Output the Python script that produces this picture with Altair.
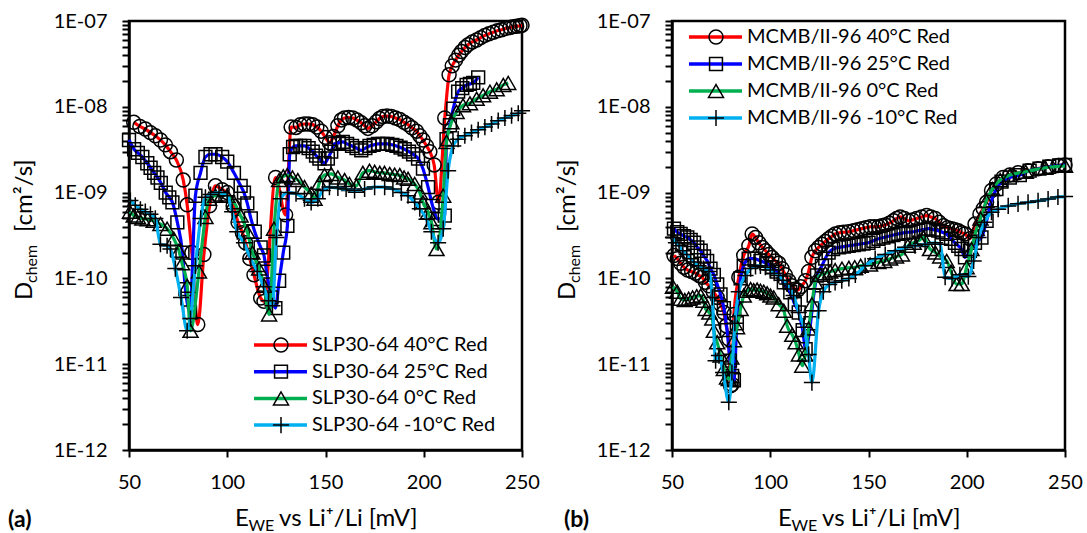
import altair as alt
import pandas as pd

FONT = "Lato"
X_TICKS = [50, 100, 150, 200, 250]
Y_TICKS = [m * 10.0 ** e for e in range(-12, -7) for m in range(1, 10)] + [1e-7]

SERIES_A = ["SLP30-64 40°C Red", "SLP30-64 25°C Red", "SLP30-64 0°C Red", "SLP30-64 -10°C Red"]
SERIES_B = ["MCMB/II-96 40°C Red", "MCMB/II-96 25°C Red", "MCMB/II-96 0°C Red", "MCMB/II-96 -10°C Red"]
COLORS = ["#FF0000", "#0000FF", "#00B050", "#00B0F0"]
SHAPES = ["circle", "square", "triangle-up", "M-1,0H1M0,-1V1"]
SIZES = [195, 165, 225, 260]

# ---- panel (a): SLP30-64 ----
A_40 = [(52.4, 6.6e-9), (55.5, 5.9e-9), (58.3, 5.5e-9), (60.9, 5.0e-9), (63.4, 4.6e-9), (66.0, 4.1e-9),
        (68.5, 3.6e-9), (71.1, 3.0e-9), (74.1, 2.4e-9), (77.6, 1.4e-9), (79.6, 7.2e-10), (82.0, 2.0e-10),
        (85.0, 2.9e-11), (88.1, 1.9e-10), (91.0, 7.0e-10), (94.0, 1.2e-9), (97.4, 1.08e-9), (100.0, 1.0e-9),
        (103.0, 7.0e-10), (105.5, 4.5e-10), (107.7, 3.4e-10), (109.3, 2.6e-10), (111.5, 1.7e-10),
        (113.6, 1.1e-10), (117.0, 5.9e-11), (118.7, 5.4e-11), (124.6, 1.5e-9), (129.7, 5.5e-10),
        (132.5, 5.8e-9), (135.0, 5.75e-9), (137.2, 6.2e-9), (139.3, 6.3e-9), (141.4, 6.3e-9), (143.5, 6.2e-9),
        (145.6, 5.8e-9), (147.8, 5.2e-9), (150.0, 4.4e-9), (152.0, 3.8e-9), (154.0, 4.5e-9), (156.3, 6.0e-9),
        (158.0, 7.0e-9), (159.7, 7.4e-9), (161.8, 7.5e-9), (163.9, 7.4e-9), (166.0, 7.0e-9), (168.2, 6.5e-9),
        (170.0, 6.0e-9), (171.6, 5.6e-9), (173.7, 6.0e-9), (175.9, 6.7e-9), (177.5, 7.3e-9), (179.2, 7.7e-9),
        (181.3, 7.8e-9), (183.5, 7.7e-9), (185.6, 7.4e-9), (187.8, 7.1e-9), (190.0, 6.6e-9), (192.0, 6.2e-9),
        (194.0, 5.7e-9), (196.3, 5.2e-9), (198.0, 4.6e-9), (199.6, 4.1e-9), (201.4, 3.5e-9), (203.1, 3.0e-9),
        (205.3, 2.1e-9), (207.5, 7.7e-10), (210.7, 7.4e-9), (212.9, 2.36e-8), (214.5, 3.0e-8), (216.2, 3.5e-8),
        (217.8, 4.0e-8), (219.2, 4.4e-8), (221.0, 4.9e-8), (222.6, 5.3e-8), (224.7, 5.7e-8), (226.9, 6.0e-8),
        (229.0, 6.4e-8), (231.1, 6.8e-8), (233.2, 7.1e-8), (235.4, 7.4e-8), (237.5, 7.7e-8), (239.6, 7.9e-8),
        (241.7, 8.2e-8), (243.9, 8.4e-8), (245.6, 8.6e-8), (247.3, 8.7e-8), (249.0, 8.8e-8), (250.0, 8.9e-8)]

A_25 = [(50.0, 4.1e-9), (52.6, 3.2e-9), (54.5, 2.9e-9), (56.8, 2.6e-9), (59.3, 2.2e-9), (61.0, 1.95e-9),
        (62.8, 1.7e-9), (64.5, 1.5e-9), (66.2, 1.3e-9), (68.7, 1.0e-9), (70.5, 8.8e-10), (72.1, 7.7e-10),
        (74.6, 4.5e-10), (77.2, 2.0e-10), (78.7, 7.5e-11), (81.0, 4.0e-11), (83.8, 9.2e-10), (86.4, 1.7e-9),
        (88.9, 2.6e-9), (91.5, 2.8e-9), (94.0, 2.8e-9), (97.4, 2.6e-9), (100.0, 2.3e-9), (103.4, 1.7e-9),
        (106.8, 1.2e-9), (108.5, 1.0e-9), (110.2, 7.5e-10), (112.0, 5.0e-10), (114.0, 3.5e-10),
        (117.0, 2.3e-10), (118.7, 1.85e-10), (120.0, 1.2e-10), (122.5, 6.0e-11), (124.5, 4.5e-11),
        (126.4, 9.4e-11), (128.5, 2.0e-10), (130.6, 4.1e-10), (131.8, 2.8e-9), (133.5, 3.4e-9), (135.0, 3.5e-9),
        (137.2, 3.5e-9), (139.3, 3.5e-9), (141.4, 3.3e-9), (143.5, 3.0e-9), (145.2, 2.7e-9), (146.9, 2.5e-9),
        (149.5, 2.2e-9), (151.2, 2.5e-9), (152.9, 3.0e-9), (154.6, 3.7e-9), (156.7, 3.8e-9), (158.8, 3.9e-9),
        (161.0, 3.7e-9), (163.5, 3.5e-9), (165.8, 3.3e-9), (168.2, 3.1e-9), (170.3, 3.3e-9), (172.4, 3.5e-9),
        (174.5, 3.6e-9), (176.7, 3.7e-9), (179.0, 3.7e-9), (181.5, 3.7e-9), (184.0, 3.6e-9), (186.1, 3.5e-9),
        (188.2, 3.35e-9), (190.3, 3.2e-9), (192.5, 3.0e-9), (194.6, 2.8e-9), (197.1, 2.5e-9), (199.6, 1.9e-9),
        (202.2, 1.16e-9), (204.5, 7.0e-10), (207.3, 4.9e-10), (210.7, 5.4e-10), (211.6, 4.2e-9),
        (213.3, 6.1e-9), (215.0, 9.5e-9), (217.5, 1.5e-8), (219.6, 1.65e-8), (221.8, 1.8e-8),
        (223.5, 1.85e-8), (225.2, 1.9e-8), (227.7, 2.2e-8)]

A_0 = [(50.5, 6.0e-10), (52.4, 5.4e-10), (54.5, 5.2e-10), (56.8, 5.0e-10), (59.5, 4.9e-10), (62.6, 4.7e-10),
       (66.0, 4.3e-10), (69.4, 3.8e-10), (72.8, 2.9e-10), (75.4, 2.1e-10), (77.0, 1.5e-10), (79.6, 8.2e-11),
       (81.3, 2.45e-11), (85.6, 1.2e-10), (88.9, 5.2e-10), (90.7, 8.5e-10), (94.0, 9.2e-10), (97.4, 9.5e-10),
       (100.0, 9.2e-10), (103.4, 7.7e-10), (106.8, 5.4e-10), (110.2, 3.5e-10), (112.8, 2.0e-10),
       (116.2, 1.3e-10), (118.7, 8.2e-11), (121.3, 3.8e-11), (123.8, 3.8e-10), (126.4, 1.4e-9),
       (128.5, 1.55e-9), (130.5, 1.6e-9), (133.2, 1.5e-9), (135.9, 1.4e-9), (139.3, 1.16e-9), (142.7, 9.7e-10),
       (144.4, 8.5e-10), (146.9, 1.3e-9), (149.5, 1.6e-9), (152.9, 1.65e-9), (156.3, 1.5e-9), (159.7, 1.4e-9),
       (162.2, 1.26e-9), (165.7, 1.2e-9), (169.0, 1.7e-9), (172.4, 1.8e-9), (175.0, 1.75e-9), (177.6, 1.7e-9),
       (180.0, 1.7e-9), (182.7, 1.65e-9), (185.2, 1.62e-9), (187.8, 1.6e-9), (190.0, 1.5e-9), (192.0, 1.45e-9),
       (195.4, 1.26e-9), (198.0, 1.0e-9), (199.6, 7.7e-10), (202.2, 5.9e-10), (203.9, 4.5e-10),
       (206.5, 2.2e-10), (209.9, 9.2e-10), (211.6, 3.9e-9), (214.1, 6.6e-9), (216.7, 8.7e-9), (220.0, 1.04e-8),
       (223.5, 1.1e-8), (226.9, 1.24e-8), (230.2, 1.36e-8), (233.7, 1.5e-8), (237.1, 1.6e-8), (240.5, 1.8e-8),
       (243.0, 1.9e-8)]

A_M10 = [(50.7, 8.1e-10), (53.2, 7.1e-10), (55.8, 6.4e-10), (58.3, 6.0e-10), (60.9, 5.6e-10), (63.4, 5.0e-10),
         (66.0, 2.5e-10), (69.4, 2.4e-10), (71.1, 2.2e-10), (73.6, 1.3e-10), (76.5, 6.0e-11), (79.6, 2.45e-11),
         (81.3, 3.4e-11), (83.8, 1.4e-10), (86.5, 5.0e-10), (88.9, 8.8e-10), (91.5, 9.5e-10), (95.8, 1.0e-9),
         (100.0, 9.2e-10), (102.5, 6.0e-10), (105.1, 3.5e-10), (108.5, 2.6e-10), (111.9, 1.7e-10),
         (115.3, 1.2e-10), (118.5, 8.0e-11), (121.0, 5.5e-11), (123.0, 4.8e-11), (125.0, 3.0e-10),
         (127.2, 8.5e-10), (130.8, 1.0e-9), (135.0, 9.7e-10), (139.3, 8.5e-10), (142.7, 7.7e-10),
         (146.1, 8.5e-10), (148.6, 1.06e-9), (152.0, 1.16e-9), (156.3, 1.13e-9), (160.5, 1.1e-9),
         (164.8, 1.06e-9), (169.9, 1.1e-9), (175.0, 1.16e-9), (180.1, 1.16e-9), (184.3, 1.1e-9), (188.6, 1.0e-9),
         (192.0, 9.2e-10), (195.4, 7.7e-10), (198.0, 6.5e-10), (201.4, 4.9e-10), (203.9, 3.5e-10),
         (207.3, 2.6e-10), (209.9, 3.8e-10), (212.4, 1.8e-9), (215.0, 3.5e-9), (217.5, 4.2e-9), (220.9, 4.6e-9),
         (224.3, 5.0e-9), (227.7, 5.4e-9), (231.1, 5.8e-9), (234.5, 6.3e-9), (237.9, 6.9e-9), (241.3, 7.4e-9),
         (244.7, 7.9e-9), (248.1, 8.4e-9), (250.0, 9.0e-9)]

# ---- panel (b): MCMB/II-96 ----
B_40 = [(51.0, 1.85e-10), (52.7, 1.7e-10), (54.4, 1.5e-10), (56.1, 1.35e-10), (58.0, 1.25e-10), (60.0, 1.2e-10),
        (62.0, 1.15e-10), (63.8, 1.08e-10), (65.4, 1.03e-10), (67.0, 9.0e-11), (68.8, 8.2e-11), (71.0, 7.0e-11),
        (73.0, 6.0e-11), (74.7, 5.0e-11), (76.4, 4.0e-11), (77.6, 2.8e-11), (78.9, 1.96e-11), (79.8, 5.6e-12),
        (80.6, 5.8e-12), (81.5, 3.8e-11), (84.0, 1.03e-10), (86.5, 1.85e-10), (89.1, 2.4e-10), (90.8, 3.3e-10),
        (92.5, 3.0e-10), (94.2, 2.6e-10), (96.0, 2.3e-10), (97.6, 2.1e-10), (99.3, 1.9e-10), (100.9, 1.75e-10),
        (102.6, 1.6e-10), (104.3, 1.5e-10), (106.0, 1.3e-10), (107.7, 1.1e-10), (109.4, 9.4e-11),
        (111.0, 8.2e-11), (112.5, 7.5e-11), (114.0, 7.3e-11), (115.5, 8.0e-11), (117.9, 9.4e-11),
        (119.5, 1.2e-10), (121.2, 1.76e-10), (123.0, 2.1e-10), (124.6, 2.3e-10), (126.3, 2.5e-10),
        (128.0, 2.7e-10), (129.7, 2.9e-10), (131.4, 3.1e-10), (133.1, 3.3e-10), (135.2, 3.4e-10),
        (137.3, 3.45e-10), (139.8, 3.5e-10), (142.4, 3.6e-10), (144.5, 3.7e-10), (146.6, 3.8e-10),
        (148.7, 3.9e-10), (150.9, 4.0e-10), (153.0, 4.0e-10), (155.1, 4.0e-10), (156.8, 4.1e-10),
        (158.5, 4.2e-10), (160.6, 4.4e-10), (162.7, 4.7e-10), (164.4, 5.0e-10), (166.1, 5.2e-10),
        (168.2, 5.0e-10), (170.3, 4.7e-10), (172.4, 4.8e-10), (174.5, 5.0e-10), (177.0, 5.2e-10),
        (179.6, 5.4e-10), (181.7, 5.2e-10), (183.9, 5.0e-10), (186.0, 4.5e-10), (188.1, 4.1e-10),
        (190.2, 3.9e-10), (192.3, 3.8e-10), (194.0, 3.7e-10), (195.7, 3.6e-10), (197.4, 3.4e-10),
        (199.1, 3.3e-10), (201.6, 2.9e-10), (204.2, 4.3e-10), (206.7, 5.6e-10), (208.4, 6.5e-10),
        (210.1, 7.7e-10), (212.6, 1.06e-9), (215.1, 1.26e-9), (218.5, 1.5e-9), (221.9, 1.6e-9), (226.1, 1.7e-9),
        (231.2, 1.8e-9), (236.3, 1.9e-9), (241.4, 2.0e-9), (246.4, 2.07e-9), (250.0, 2.1e-9)]

B_25 = [(51.0, 3.8e-10), (52.7, 3.45e-10), (54.4, 3.3e-10), (56.1, 3.1e-10), (57.8, 3.0e-10), (59.5, 2.8e-10),
        (61.2, 2.6e-10), (62.9, 2.3e-10), (64.6, 2.1e-10), (66.3, 1.8e-10), (67.9, 1.6e-10), (69.6, 1.3e-10),
        (71.3, 1.1e-10), (73.0, 8.5e-11), (74.7, 6.5e-11), (76.4, 4.5e-11), (78.0, 2.5e-11), (79.5, 1.1e-11),
        (80.6, 7.3e-12), (81.5, 6.5e-12), (83.0, 3.0e-11), (84.9, 1.0e-10), (86.5, 1.4e-10), (89.0, 1.7e-10),
        (92.0, 1.7e-10), (95.0, 1.6e-10), (98.0, 1.5e-10), (101.0, 1.35e-10), (103.4, 1.2e-10),
        (106.9, 9.0e-11), (110.2, 6.9e-11), (112.5, 5.0e-11), (114.5, 4.0e-11), (116.5, 2.5e-11),
        (118.0, 1.5e-11), (120.5, 3.0e-11), (122.1, 6.3e-11), (123.8, 1.08e-10), (126.3, 1.4e-10),
        (128.0, 1.7e-10), (129.7, 2.0e-10), (132.0, 2.2e-10), (135.0, 2.3e-10), (137.5, 2.35e-10),
        (139.9, 2.4e-10), (142.5, 2.45e-10), (145.0, 2.5e-10), (147.5, 2.55e-10), (150.0, 2.6e-10),
        (152.5, 2.75e-10), (155.1, 2.9e-10), (157.6, 3.0e-10), (160.2, 3.1e-10), (162.7, 3.2e-10),
        (165.2, 3.3e-10), (167.8, 3.4e-10), (170.3, 3.45e-10), (172.8, 3.5e-10), (175.4, 3.6e-10),
        (178.0, 3.7e-10), (180.5, 3.8e-10), (183.0, 3.7e-10), (185.5, 3.6e-10), (187.6, 3.45e-10),
        (189.7, 3.3e-10), (192.0, 2.9e-10), (194.0, 2.6e-10), (195.7, 2.4e-10), (197.3, 2.2e-10),
        (199.1, 1.76e-10), (201.6, 2.1e-10), (204.2, 2.6e-10), (207.5, 3.0e-10), (210.1, 4.7e-10),
        (212.6, 8.1e-10), (215.1, 1.1e-9), (217.7, 1.34e-9), (221.9, 1.5e-9), (227.0, 1.6e-9), (232.0, 1.8e-9),
        (237.0, 1.9e-9), (242.0, 2.0e-9), (247.0, 2.07e-9), (250.0, 2.1e-9)]

B_0 = [(50.5, 8.0e-11), (52.7, 7.0e-11), (54.4, 5.8e-11), (56.5, 5.6e-11), (58.5, 5.8e-11), (60.5, 6.0e-11),
       (62.6, 6.2e-11), (64.6, 6.3e-11), (66.0, 5.5e-11), (67.1, 4.4e-11), (69.0, 4.0e-11), (70.5, 3.4e-11),
       (71.3, 2.45e-11), (73.0, 1.8e-11), (74.7, 1.26e-11), (76.4, 8.8e-12), (78.0, 7.0e-12), (78.9, 6.7e-12),
       (80.2, 1.2e-11), (81.5, 1.9e-11), (83.1, 2.7e-11), (84.9, 4.4e-11), (86.5, 6.3e-11), (88.2, 7.2e-11),
       (90.0, 7.5e-11), (91.6, 7.3e-11), (93.3, 7.4e-11), (95.0, 7.2e-11), (96.7, 7.0e-11), (98.4, 6.7e-11),
       (100.1, 6.3e-11), (101.8, 6.0e-11), (104.3, 5.0e-11), (106.9, 4.2e-11), (108.6, 2.8e-11),
       (111.2, 2.2e-11), (112.9, 1.8e-11), (114.6, 1.3e-11), (116.3, 9.6e-12), (117.8, 1.3e-11),
       (119.5, 2.6e-11), (121.2, 5.0e-11), (122.9, 9.0e-11), (125.5, 1.1e-10), (128.0, 1.15e-10),
       (130.5, 1.2e-10), (133.0, 1.25e-10), (136.5, 1.3e-10), (140.0, 1.33e-10), (143.0, 1.35e-10),
       (146.0, 1.4e-10), (150.8, 1.45e-10), (155.0, 1.55e-10), (158.0, 1.6e-10), (161.0, 1.7e-10),
       (164.0, 1.8e-10), (167.0, 1.9e-10), (170.0, 2.4e-10), (173.0, 2.6e-10), (176.0, 2.8e-10),
       (178.0, 3.0e-10), (181.3, 2.2e-10), (184.0, 2.0e-10), (186.5, 1.8e-10), (189.8, 1.6e-10),
       (192.0, 1.2e-10), (194.8, 8.6e-11), (197.4, 8.6e-11), (199.9, 1.35e-10), (202.4, 2.2e-10),
       (205.0, 3.8e-10), (207.0, 5.0e-10), (210.0, 8.0e-10), (213.0, 1.1e-9), (217.0, 1.4e-9), (222.0, 1.6e-9),
       (230.0, 1.75e-9), (240.0, 1.95e-9), (250.0, 2.05e-9)]

B_M10 = [(50.5, 3.0e-10), (52.0, 2.6e-10), (53.6, 2.4e-10), (55.5, 2.1e-10), (57.5, 1.9e-10), (59.5, 1.7e-10),
         (61.2, 1.55e-10), (63.5, 1.4e-10), (66.0, 1.3e-10), (68.8, 1.2e-10), (70.5, 6.0e-11), (72.2, 1.1e-11),
         (73.9, 1.26e-11), (76.0, 8.0e-12), (78.9, 3.6e-12), (80.5, 8.0e-12), (82.0, 3.0e-11), (84.0, 7.0e-11),
         (87.4, 1.08e-10), (90.0, 1.3e-10), (92.5, 1.38e-10), (95.0, 1.4e-10), (97.5, 1.35e-10), (100.0, 1.25e-10),
         (102.0, 1.15e-10), (104.3, 1.08e-10), (106.5, 9.5e-11), (108.6, 8.6e-11), (110.3, 7.5e-11),
         (111.9, 6.3e-11), (114.5, 4.0e-11), (117.1, 2.7e-11), (119.5, 1.3e-11), (121.2, 6.1e-12),
         (124.6, 4.2e-11), (127.0, 7.0e-11), (130.0, 8.5e-11), (133.0, 9.0e-11), (136.4, 9.4e-11),
         (140.0, 1.0e-10), (143.3, 1.1e-10), (148.3, 1.4e-10), (153.4, 1.7e-10), (158.5, 1.9e-10),
         (163.6, 2.1e-10), (168.6, 2.3e-10), (173.7, 2.4e-10), (178.8, 2.5e-10), (183.9, 2.6e-10),
         (186.5, 2.5e-10), (189.0, 1.03e-10), (192.5, 1.0e-10), (196.5, 1.1e-10), (200.8, 1.05e-10),
         (203.5, 1.6e-10), (206.0, 3.0e-10), (209.0, 4.5e-10), (212.6, 5.9e-10), (216.0, 6.4e-10),
         (221.1, 7.0e-10), (226.1, 7.4e-10), (231.2, 7.7e-10), (236.3, 8.0e-10), (241.4, 8.4e-10),
         (246.4, 8.9e-10), (250.0, 9.0e-10)]

W, H = 393, 429
LABEL_EXPR = ("abs(log(datum.value)/LN10 - round(log(datum.value)/LN10)) < 0.01 ? "
              "'1E-' + (-round(log(datum.value)/LN10) < 10 ? '0' : '') + (-round(log(datum.value)/LN10)) : ''")

xscale = alt.Scale(domain=[50, 250], nice=False, zero=False)
yscale = alt.Scale(type="log", domain=[1e-12, 1e-7], nice=False)
xaxis = alt.Axis(values=X_TICKS, title=None, grid=False, tickSize=7, tickWidth=2, tickColor="black",
                 domainColor="black", domainWidth=2.5, labelFont=FONT, labelFontSize=20, labelColor="black",
                 labelPadding=15, labelFlush=False, labelOverlap=False)
yaxis = alt.Axis(values=Y_TICKS, labelExpr=LABEL_EXPR, title=None, grid=False, tickSize=7, tickWidth=2,
                 tickColor="black", domainColor="black", domainWidth=2.5, labelFont=FONT, labelFontSize=20,
                 labelColor="black", labelPadding=15, labelFlush=False, labelOverlap=False)


def txt(s, x, y, size=19, angle=0, align="left", baseline="alphabetic", weight="normal"):
    return alt.Chart(pd.DataFrame({"t": [s]})).mark_text(
        font=FONT, fontSize=size, angle=angle, align=align, baseline=baseline, fontWeight=weight,
        color="black").encode(text="t:N", x=alt.value(x), y=alt.value(y))


def panel(names, datasets, leg, tag, tag_x):
    layers = []
    for i, pts in enumerate(datasets):
        df = pd.DataFrame(pts, columns=["E", "D"])
        enc = dict(x=alt.X("E:Q", scale=xscale, axis=xaxis), y=alt.Y("D:Q", scale=yscale, axis=yaxis))
        layers.append(alt.Chart(df).mark_line(color=COLORS[i], strokeWidth=3.2, interpolate="monotone")
                      .encode(**enc))
        layers.append(alt.Chart(df).mark_point(shape=SHAPES[i], size=SIZES[i], filled=False, stroke="black",
                                               strokeWidth=1.5, opacity=1).encode(**enc))
    # legend
    lx1, lx2, mx, tx, ly0, dy = leg
    for i, name in enumerate(names):
        y = ly0 + i * dy
        one = pd.DataFrame({"t": [name]})
        layers.append(alt.Chart(one).mark_rule(color=COLORS[i], strokeWidth=3.5)
                      .encode(x=alt.value(lx1), x2=alt.value(lx2), y=alt.value(y)))
        layers.append(alt.Chart(one).mark_point(shape=SHAPES[i], size=SIZES[i], filled=False, stroke="black",
                                                strokeWidth=1.5, opacity=1)
                      .encode(x=alt.value(mx), y=alt.value(y)))
        layers.append(txt(name, tx, y, size=20, baseline="middle"))
    # axis titles built from pieces (subscripts)
    layers.append(txt("E", 106, 505, size=24))
    layers.append(txt("WE", 119.5, 510, size=16))
    layers.append(txt("vs Li⁺/Li [mV]", 150, 505, size=24))
    layers.append(txt("D", -97, 279, size=24, angle=270))
    layers.append(txt("chem", -92, 262, size=16, angle=270))
    layers.append(txt("[cm²/s]", -97, 211, size=24, angle=270))
    layers.append(txt(tag, tag_x, 506, size=23, weight="bold"))
    return alt.layer(*layers).properties(width=W, height=H)


pa = panel(SERIES_A, [A_40, A_25, A_0, A_M10], (125, 178, 152, 183, 324, 26.7), "(a)", -121)
pb = panel(SERIES_B, [B_40, B_25, B_0, B_M10], (17, 70, 44, 75, 16, 27), "(b)", -108)

chart = alt.hconcat(pa, pb, spacing=150, bounds="flush").properties(
    padding={"left": 6, "top": 9, "right": 0, "bottom": 0}, background="white"
).configure_view(stroke="black", strokeWidth=2.5)

chart.save("out.html", embed_options={"renderer": "svg", "actions": False})
